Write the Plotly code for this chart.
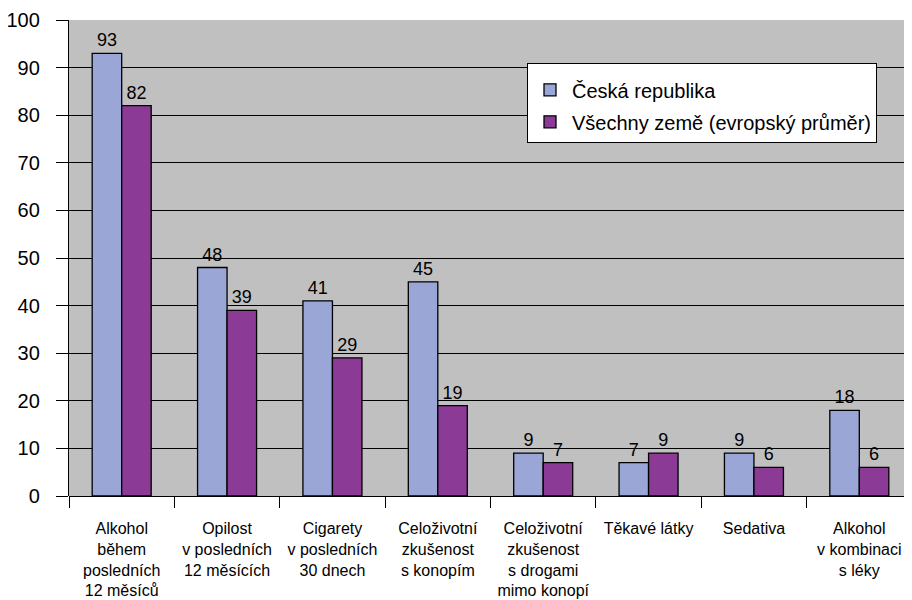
import plotly.graph_objects as go

categories = [
    "Alkohol<br>během<br>posledních<br>12 měsíců",
    "Opilost<br>v posledních<br>12 měsících",
    "Cigarety<br>v posledních<br>30 dnech",
    "Celoživotní<br>zkušenost<br>s konopím",
    "Celoživotní<br>zkušenost<br>s drogami<br>mimo konopí",
    "Těkavé látky",
    "Sedativa",
    "Alkohol<br>v kombinaci<br>s léky",
]
cz_values = [93, 48, 41, 45, 9, 7, 9, 18]
eu_values = [82, 39, 29, 19, 7, 9, 6, 6]
series_names = ["Česká republika", "Všechny země (evropský průměr)"]
y_ticks = list(range(0, 101, 10))

font = "Liberation Sans, Arial, sans-serif"

fig = go.Figure()
fig.add_trace(go.Bar(
    x=categories, y=cz_values, name=series_names[0],
    marker=dict(color="#99A6D6", line=dict(color="black", width=1.3)),
    text=cz_values, textposition="outside", cliponaxis=False,
    textfont=dict(size=18, color="black", family=font),
    legendgroup="a",
))
fig.add_trace(go.Bar(
    x=categories, y=eu_values, name=series_names[1],
    marker=dict(color="#8B3A96", line=dict(color="black", width=1.3)),
    text=eu_values, textposition="outside", cliponaxis=False,
    textfont=dict(size=18, color="black", family=font),
    legendgroup="b",
))

fig.update_layout(
    width=904, height=592,
    margin=dict(l=61, r=0, t=12, b=104, autoexpand=False),
    paper_bgcolor="white", plot_bgcolor="#C0C0C0",
    barmode="group", bargap=0.44, bargroupgap=0,
    font=dict(family=font, color="black"),
    showlegend=True,
    legend=dict(
        x=0.5433, y=0.91, xanchor="left", yanchor="top",
        bgcolor="white", bordercolor="black", borderwidth=1,
        font=dict(size=20, family=font, color="black"),
        title=dict(text=" ", font=dict(size=5)),
        traceorder="grouped", tracegroupgap=3,
        itemwidth=34,
    ),
    xaxis=dict(
        type="category", tickson="boundaries", ticks="outside",
        ticklen=11, tickcolor="black", tickwidth=1,
        showline=False, showgrid=False, automargin=False,
        ticklabelstandoff=21,
        tickfont=dict(size=16, family=font, color="black"),
        range=[-0.5, 7.5],
    ),
    yaxis=dict(
        range=[0, 100], tickvals=y_ticks, ticks="outside", ticklen=12,
        tickcolor="black", tickwidth=1, automargin=False,
        ticklabelstandoff=12,
        showline=True, linecolor="black", linewidth=1.3,
        showgrid=True, gridcolor="black", gridwidth=1.3,
        zeroline=True, zerolinecolor="black", zerolinewidth=1.3,
        tickfont=dict(size=20, family=font, color="black"),
    ),
)

fig.write_html("out.html")
